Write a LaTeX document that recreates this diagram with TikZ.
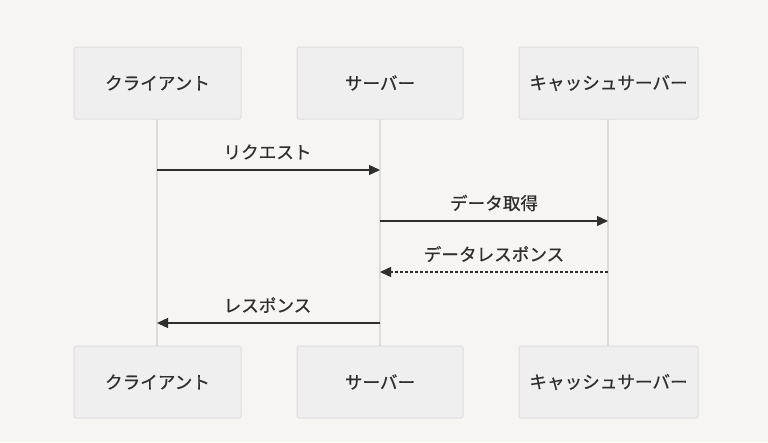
\documentclass[tikz,border=0pt]{standalone}
\usepackage{fontspec}
\newfontfamily\jpfont[FakeBold=0.6]{Noto Sans CJK JP}
\usetikzlibrary{arrows.meta}
\definecolor{bgcol}{HTML}{F6F5F1}
\definecolor{boxfill}{HTML}{EFEFEF}
\definecolor{boxline}{HTML}{DEDEDE}
\definecolor{lifecol}{HTML}{DCDCDA}
\definecolor{inkcol}{HTML}{2E2E2E}
\tikzset{
  actor/.style={draw=boxline, fill=boxfill, rounded corners=2pt, line width=1pt,
    minimum width=#1, minimum height=72pt, inner sep=0pt,
    font=\jpfont\fontsize{17.6}{19}\selectfont, text=inkcol},
  lifeline/.style={draw=lifecol, line width=1.6pt},
  msg/.style={draw=inkcol, line width=1.3pt, -{Triangle[length=11pt,width=10pt]}},
  reply/.style={msg, dash pattern=on 3pt off 2pt},
  msglabel/.style={font=\jpfont\fontsize{17.6}{19}\selectfont, text=inkcol, inner sep=0pt}
}
\begin{document}
\begin{tikzpicture}[x=1pt,y=-1pt]
  \fill[bgcol] (0,0) rectangle (768,442);
  \useasboundingbox (0,0) rectangle (768,442);

  % lifelines drawn first so the boxes sit on top
  \coordinate (cTop) at (157,119);  \coordinate (cBot) at (157,346);
  \coordinate (sTop) at (380,119);  \coordinate (sBot) at (380,346);
  \coordinate (kTop) at (608,119);  \coordinate (kBot) at (608,346);
  \draw[lifeline] (cTop) -- (cBot);
  \draw[lifeline] (sTop) -- (sBot);
  \draw[lifeline] (kTop) -- (kBot);

  % participants, top and bottom
  \node[actor=167pt] (client)  at (157.5,83)  {クライアント};
  \node[actor=166pt] (server)  at (380,83)    {サーバー};
  \node[actor=179pt] (cache)   at (608.5,83)  {キャッシュサーバー};
  \node[actor=167pt] (client2) at (157.5,382) {クライアント};
  \node[actor=166pt] (server2) at (380,382)   {サーバー};
  \node[actor=179pt] (cache2)  at (608.5,382) {キャッシュサーバー};

  % message anchor points on the lifelines
  \coordinate (m1a) at (157,170); \coordinate (m1b) at (380,170);
  \coordinate (m2a) at (380,221); \coordinate (m2b) at (608,221);
  \coordinate (m3a) at (608,272); \coordinate (m3b) at (380,272);
  \coordinate (m4a) at (380,323); \coordinate (m4b) at (157,323);

  \draw[msg]   (m1a) -- (m1b);
  \draw[msg]   (m2a) -- (m2b);
  \draw[reply] (m3a) -- (m3b);
  \draw[msg]   (m4a) -- (m4b);

  \node[msglabel] (l1) at (267.5,152) {リクエスト};
  \node[msglabel] (l2) at (494,203)   {データ取得};
  \node[msglabel] (l3) at (494,254)   {データレスポンス};
  \node[msglabel] (l4) at (267.5,305) {レスポンス};
\end{tikzpicture}
\end{document}
